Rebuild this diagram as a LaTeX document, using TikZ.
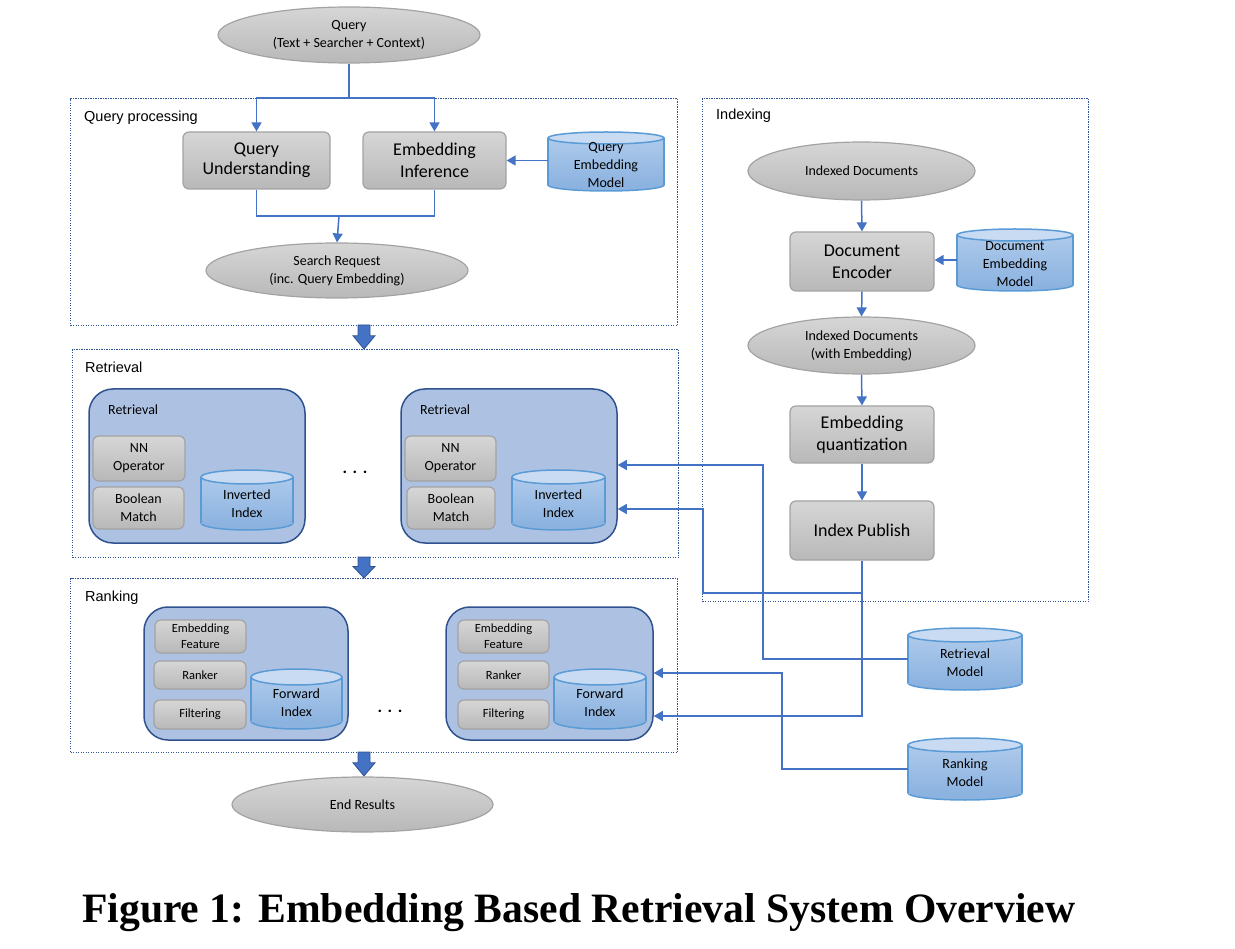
\documentclass[tikz,border=0pt]{standalone}
\usepackage{fontspec}
\setmainfont{Carlito}
\newfontfamily\capfont{Liberation Serif}
\newfontfamily\labfont{Liberation Sans}
\usetikzlibrary{shapes.geometric,arrows.meta,calc}
\definecolor{connblue}{HTML}{4472C4}
\definecolor{framecol}{HTML}{2F5597}
\definecolor{boxblue}{HTML}{ADC2E3}
\definecolor{boxblueborder}{HTML}{2F528F}
\definecolor{graytop}{HTML}{D6D6D6}
\definecolor{graybot}{HTML}{B8B8B8}
\definecolor{grayborder}{HTML}{A3A3A3}
\definecolor{cyltop}{HTML}{C8DBF2}
\definecolor{cylbodytop}{HTML}{AECAEB}
\definecolor{cylbodybot}{HTML}{8CB3E0}
\definecolor{cylborder}{HTML}{5B9BD5}
\tikzset{
  frame/.style={draw=framecol, line width=1.1pt, dash pattern=on 1.2pt off 1.3pt, rectangle, inner sep=0, anchor=north west},
  graybox/.style={rectangle, rounded corners=6pt, draw=grayborder, line width=1.2pt, top color=graytop, bottom color=graybot, align=center, inner sep=0},
  grayell/.style={ellipse, draw=grayborder, line width=1.2pt, top color=graytop, bottom color=graybot, align=center, inner sep=0},
  bluebox/.style={rectangle, rounded corners=24pt, draw=boxblueborder, line width=1.5pt, fill=boxblue, inner sep=0},
  conn/.style={draw=connblue, line width=1.5pt, -{Triangle[width=10pt,length=9pt]}},
  plainline/.style={draw=connblue, line width=1.5pt},
  seclabel/.style={anchor=west, font=\labfont\fontsize{14.5}{17}\selectfont, inner sep=0},
  bigtxt/.style={font=\fontsize{18}{22}\selectfont},
  midtxt/.style={font=\fontsize{14}{18}\selectfont},
  smalltxt/.style={font=\fontsize{12.5}{16}\selectfont},
  dotstxt/.style={font=\bfseries\fontsize{17}{17}\selectfont, inner sep=0, anchor=base},
  blockarrow/.style={fill=connblue, draw=boxblueborder, line width=0.8pt},
}
\newcommand{\cylat}[7]{%
  \pgfmathsetmacro{\cylcx}{(#2+#4)/2}%
  \pgfmathsetmacro{\cylcy}{(#3+#5)/2}%
  \pgfmathsetmacro{\cylrx}{(#4-#2)/2}%
  \pgfmathsetmacro{\cylw}{#4-#2}%
  \pgfmathsetmacro{\cylh}{#5-#3}%
  \fill[cylbodybot] (\cylcx,#5-#6) ellipse [x radius=\cylrx, y radius=#6];
  \draw[cylborder, line width=1.5pt] (\cylcx,#5-#6) ellipse [x radius=\cylrx, y radius=#6];
  \shade[top color=cylbodytop, bottom color=cylbodybot] (#2,#3+#6) rectangle (#4,#5-#6);
  \draw[cylborder, line width=1.5pt] (#2,#3+#6) -- (#2,#5-#6) (#4,#3+#6) -- (#4,#5-#6);
  \filldraw[fill=cyltop, draw=cylborder, line width=1.5pt] (\cylcx,#3+#6) ellipse [x radius=\cylrx, y radius=#6];
  \node[minimum width=\cylw, minimum height=\cylh, inner sep=0] (#1) at (\cylcx,\cylcy) {};
  \node[align=center, midtxt, yshift=-4pt] at (#1.center) {#7};
}
\newcommand{\blockarr}[3]{%
  \filldraw[blockarrow] (#1-6,#2) -- (#1+6,#2) -- (#1+6,{#2+0.45*(#3-#2)}) -- (#1+11,{#2+0.45*(#3-#2)}) -- (#1,#3) -- (#1-11,{#2+0.45*(#3-#2)}) -- (#1-6,{#2+0.45*(#3-#2)}) -- cycle;
}
\begin{document}
\begin{tikzpicture}[x=1pt,y=-1pt]
\useasboundingbox (0,0) rectangle (1235,949);

% ---------- frames ----------
\node[frame, minimum width=607, minimum height=227] (qp) at (70,98) {};
\node[seclabel] at (84,118) {Query processing};
\node[frame, minimum width=606, minimum height=208] (ret) at (72,349) {};
\node[seclabel] at (85,367) {Retrieval};
\node[frame, minimum width=607, minimum height=174] (rank) at (70,578) {};
\node[seclabel] at (85,598) {Ranking};
\node[frame, minimum width=386, minimum height=503] (idx) at (702,98) {};
\node[seclabel] at (716,116) {Indexing};

% ---------- query processing ----------
\node[grayell, minimum width=262, minimum height=56, midtxt] (q) at (349,35) {Query\\(Text + Searcher + Context)};
\node[graybox, minimum width=147, minimum height=57, bigtxt] (qu) at (256.5,160.5) {\raisebox{-2pt}{\shortstack{Query\\[2pt]Understanding}}};
\node[graybox, minimum width=143, minimum height=57, bigtxt] (ei) at (434.5,160.5) {Embedding\\Inference};
\cylat{qem}{548}{132}{664}{191}{6}{Query\\Embedding\\Model}
\node[grayell, minimum width=262, minimum height=55, midtxt] (sr) at (337,270.5) {Search Request\\(inc. Query Embedding)};

\coordinate (qj) at (349,98);
\draw[plainline] (q.south) -- (qj);
\draw[conn] (qj) -| (qu.north);
\draw[conn] (qj) -| (ei.north);
\draw[conn] (qem.west |- ei.east) -- (ei.east);
\coordinate (sj) at (339,216);
\draw[plainline] (qu.south) |- (sj);
\draw[plainline] (ei.south) |- (sj);
\draw[conn] (sj) -- (sr.north);

% ---------- retrieval ----------
\node[bluebox, minimum width=216, minimum height=154] (r1) at (197,466) {};
\node[anchor=west, midtxt, inner sep=0] at (108,410) {Retrieval};
\node[graybox, minimum width=92, minimum height=45, midtxt] (nn1) at (139,458.5) {NN\\Operator};
\node[graybox, minimum width=91, minimum height=42, midtxt] (bm1) at (138.5,508) {Boolean\\Match};
\cylat{ii1}{201}{470}{293}{530}{7}{Inverted\\Index}
\node[dotstxt] (dots1) at (355,474) {.\kern5.5pt.\kern5.5pt.};

\node[bluebox, minimum width=216, minimum height=154] (r2) at (509,466) {};
\node[anchor=west, midtxt, inner sep=0] at (420,410) {Retrieval};
\node[graybox, minimum width=91, minimum height=45, midtxt] (nn2) at (450.5,458.5) {NN\\Operator};
\node[graybox, minimum width=88, minimum height=42, midtxt] (bm2) at (451,508) {Boolean\\Match};
\cylat{ii2}{512}{470}{605}{530}{7}{Inverted\\Index}

\blockarr{364}{325}{349}

% ---------- ranking ----------
\node[bluebox, minimum width=204, minimum height=133] (k1) at (246,673.5) {};
\node[graybox, minimum width=91, minimum height=33, smalltxt] (ef1) at (200.5,636.5) {Embedding\\Feature};
\node[graybox, minimum width=92, minimum height=28, smalltxt] (rk1) at (200,675) {Ranker};
\node[graybox, minimum width=92, minimum height=29, smalltxt] (fl1) at (200,714.5) {Filtering};
\cylat{fi1}{251}{669}{342}{729}{8}{Forward\\Index}
\node[dotstxt] (dots2) at (390,712) {.\kern5.5pt.\kern5.5pt.};

\node[bluebox, minimum width=207, minimum height=133] (k2) at (549.5,673.5) {};
\node[graybox, minimum width=91, minimum height=33, smalltxt] (ef2) at (503.5,636.5) {Embedding\\Feature};
\node[graybox, minimum width=91, minimum height=28, smalltxt] (rk2) at (503.5,675) {Ranker};
\node[graybox, minimum width=91, minimum height=29, smalltxt] (fl2) at (503.5,714.5) {Filtering};
\cylat{fi2}{554}{669}{646}{729}{8}{Forward\\Index}

\blockarr{364}{557}{578}
\blockarr{364}{752}{776}
\node[grayell, minimum width=261, minimum height=55, midtxt] (er) at (362.5,804.5) {End Results};

% ---------- indexing ----------
\node[grayell, minimum width=227, minimum height=58, midtxt] (id) at (861.5,171) {Indexed Documents};
\node[graybox, minimum width=144, minimum height=59, bigtxt] (de) at (862,261.5) {Document\\Encoder};
\cylat{dem}{957}{229}{1073}{291}{6}{Document\\Embedding\\Model}
\node[grayell, minimum width=227, minimum height=57, midtxt] (ide) at (861.5,345.5) {Indexed Documents\\(with Embedding)};
\node[graybox, minimum width=144, minimum height=57, bigtxt] (eq) at (862,434.5) {Embedding\\quantization};
\node[graybox, minimum width=144, minimum height=59, bigtxt] (ip) at (862,530.5) {Index Publish};

\draw[conn] (id.south) -- (de.north);
\draw[conn] (dem.west |- 0,260) -- (de.east |- 0,260);
\draw[conn] (de.south) -- (ide.north);
\draw[conn] (ide.south) -- (eq.north);
\draw[conn] (eq.south) -- (ip.north);

% ---------- models ----------
\cylat{rm}{908}{628}{1022}{690}{7}{Retrieval\\Model}
\cylat{rkm}{908}{738}{1022}{800}{7}{Ranking\\Model}

\draw[conn] (rm.west) -- (763,659) |- (r2.east |- 0,465);
\draw[conn] (ip.south) |- (703,593) |- (r2.east |- 0,509);
\draw[conn] (ip.south) |- (k2.east |- 0,716);
\draw[conn] (rkm.west) -- (782,769) |- (k2.east |- 0,673);

% ---------- caption ----------
\node[anchor=base west, inner sep=0] (cap) at (82,922) {\resizebox{993pt}{29pt}{\capfont\bfseries Figure 1: Embedding Based Retrieval System Overview}};
\end{tikzpicture}
\end{document}
